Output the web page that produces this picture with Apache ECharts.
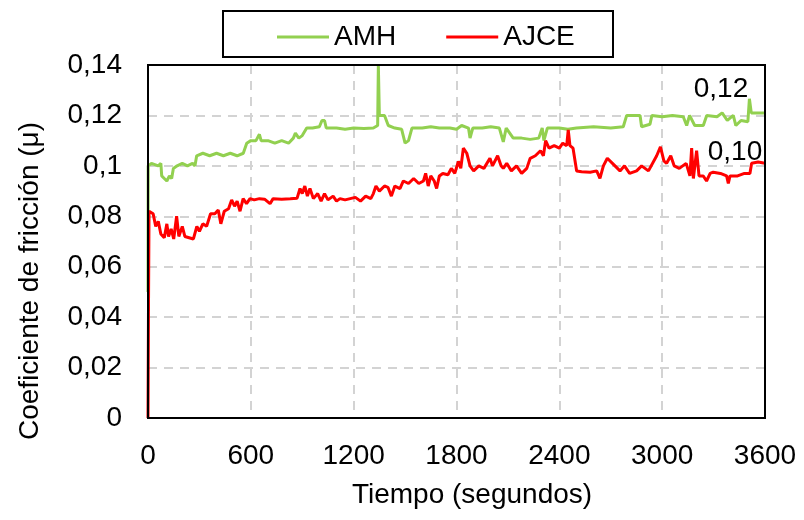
<!DOCTYPE html>
<html>
<head>
<meta charset="utf-8">
<script src="https://cdn.jsdelivr.net/npm/echarts@6/dist/echarts.min.js"></script>
<style>html,body{margin:0;padding:0;background:#fff}#c{width:804px;height:520px}</style>
</head>
<body>
<div id="c"></div>
<script>
// ---- Data ----
const seriesNames = ['AMH', 'AJCE'];
const xTicks = [0, 600, 1200, 1800, 2400, 3000, 3600];
const yTickLabels = ['0', '0,02', '0,04', '0,06', '0,08', '0,1', '0,12', '0,14'];
const endLabels = ['0,12', '0,10'];

const amhPoints = [
  [0,0.05],[1,0.100],[20,0.101],[60,0.100],[75,0.101],[80,0.096],[95,0.095],[110,0.094],[125,0.096],[138,0.095],
  [148,0.099],[170,0.100],[200,0.101],[230,0.100],[260,0.101],[274,0.100],[284,0.104],[320,0.105],[360,0.104],
  [400,0.105],[440,0.104],[480,0.105],[520,0.104],[556,0.105],[576,0.109],[600,0.110],[630,0.110],[650,0.1125],
  [660,0.110],[700,0.110],[740,0.109],[780,0.110],[820,0.109],[848,0.111],[860,0.113],[880,0.111],[900,0.112],
  [926,0.115],[960,0.115],[1000,0.1155],[1015,0.118],[1030,0.118],[1040,0.115],[1100,0.115],[1150,0.1145],
  [1200,0.115],[1260,0.1148],[1315,0.115],[1340,0.116],[1344,0.140],[1350,0.120],[1380,0.120],[1402,0.116],
  [1440,0.115],[1480,0.1145],[1500,0.109],[1520,0.110],[1540,0.115],[1600,0.115],[1650,0.1155],[1700,0.115],
  [1762,0.115],[1800,0.1145],[1830,0.116],[1870,0.115],[1879,0.111],[1895,0.115],[1950,0.115],[2000,0.1155],
  [2050,0.115],[2073,0.1095],[2090,0.115],[2131,0.111],[2180,0.111],[2230,0.1105],[2280,0.111],[2300,0.115],
  [2310,0.110],[2330,0.115],[2400,0.115],[2450,0.1145],[2500,0.115],[2600,0.1155],[2700,0.115],[2773,0.1155],
  [2793,0.120],[2871,0.120],[2880,0.1155],[2929,0.1165],[2940,0.120],[3000,0.1195],[3060,0.120],[3123,0.1195],
  [3143,0.116],[3160,0.120],[3190,0.116],[3240,0.116],[3260,0.120],[3320,0.1195],[3350,0.121],[3380,0.118],
  [3415,0.120],[3430,0.116],[3460,0.118],[3500,0.1175],[3509,0.1266],[3520,0.121],[3560,0.121],[3600,0.121]
];

const ajcePoints = [
  [0,0],[3,0.046],[6,0.082],[30,0.081],[45,0.076],[60,0.078],[75,0.073],[95,0.0715],[110,0.077],[120,0.072],
  [135,0.075],[150,0.071],[167,0.080],[180,0.072],[200,0.076],[215,0.072],[240,0.0715],[265,0.071],[285,0.076],
  [300,0.074],[320,0.077],[342,0.076],[365,0.081],[390,0.081],[410,0.0825],[425,0.077],[445,0.082],[470,0.083],
  [488,0.0865],[505,0.084],[520,0.086],[537,0.082],[555,0.087],[575,0.085],[595,0.087],[620,0.0865],[650,0.087],
  [680,0.0868],[712,0.085],[730,0.087],[780,0.0868],[830,0.087],[870,0.0872],[887,0.091],[900,0.089],[915,0.092],
  [930,0.088],[945,0.091],[965,0.087],[990,0.089],[1010,0.086],[1030,0.089],[1050,0.0865],[1080,0.088],[1100,0.086],
  [1120,0.087],[1150,0.0865],[1180,0.087],[1210,0.0875],[1240,0.086],[1270,0.088],[1300,0.087],[1315,0.089],
  [1330,0.092],[1350,0.090],[1380,0.092],[1400,0.0915],[1420,0.088],[1440,0.092],[1470,0.091],[1490,0.094],
  [1520,0.093],[1550,0.095],[1580,0.093],[1607,0.094],[1620,0.097],[1635,0.092],[1650,0.096],[1670,0.094],
  [1684,0.091],[1700,0.096],[1720,0.097],[1750,0.0965],[1770,0.099],[1790,0.097],[1811,0.1018],[1825,0.099],
  [1840,0.107],[1860,0.105],[1879,0.100],[1900,0.098],[1930,0.100],[1960,0.099],[1995,0.103],[2010,0.100],
  [2040,0.104],[2060,0.100],[2073,0.099],[2093,0.101],[2120,0.098],[2150,0.100],[2180,0.097],[2210,0.099],
  [2230,0.103],[2260,0.104],[2290,0.106],[2307,0.104],[2320,0.110],[2340,0.107],[2370,0.108],[2400,0.107],
  [2420,0.109],[2443,0.108],[2452,0.1143],[2462,0.108],[2480,0.107],[2501,0.098],[2530,0.0977],[2580,0.0975],
  [2618,0.098],[2637,0.095],[2657,0.100],[2680,0.103],[2710,0.101],[2754,0.098],[2780,0.100],[2810,0.097],
  [2851,0.098],[2880,0.100],[2920,0.098],[2968,0.104],[2990,0.1075],[3010,0.102],[3026,0.101],[3050,0.104],
  [3070,0.100],[3100,0.099],[3140,0.101],[3162,0.096],[3172,0.107],[3182,0.095],[3201,0.106],[3215,0.096],
  [3240,0.096],[3259,0.094],[3280,0.097],[3298,0.0975],[3340,0.097],[3376,0.096],[3386,0.093],[3396,0.096],
  [3440,0.096],[3480,0.097],[3512,0.097],[3522,0.101],[3560,0.1015],[3600,0.101]
];

// ---- Chart ----
const FONT = '"Liberation Sans", Arial, sans-serif';
const chart = echarts.init(document.getElementById('c'), null, {renderer: 'canvas'});
chart.setOption({
  animation: false,
  backgroundColor: '#fff',
  grid: {left: 148, right: 39, top: 65, bottom: 102},
  legend: {
    data: seriesNames,
    left: 272, top: 18,
    itemWidth: 52, itemHeight: 3, itemGap: 50, icon: 'rect',
    textStyle: {fontFamily: FONT, fontSize: 28, color: '#000'}
  },
  xAxis: {
    type: 'value', min: 0, max: 3600, interval: 600,
    axisLine: {show: true, lineStyle: {color: '#000', width: 2}},
    axisTick: {show: false},
    axisLabel: {fontFamily: FONT, fontSize: 28, color: '#000', margin: 24,
      formatter: v => xTicks.includes(v) ? String(v) : ''},
    splitLine: {show: true, lineStyle: {color: '#d3d3d3', width: 2, type: [9, 7]}}
  },
  yAxis: {
    type: 'value', min: 0, max: 0.14, interval: 0.02,
    axisLine: {show: true, lineStyle: {color: '#000', width: 2}},
    axisTick: {show: false},
    axisLabel: {fontFamily: FONT, fontSize: 28, color: '#000', margin: 26,
      formatter: v => yTickLabels[Math.round(v / 0.02)]},
    splitLine: {show: true, lineStyle: {color: '#d3d3d3', width: 2, type: [9, 7]}}
  },
  series: [
    {name: seriesNames[0], type: 'line', data: amhPoints, showSymbol: false, symbol: 'none',
      lineStyle: {color: '#92d050', width: 3}, itemStyle: {color: '#92d050'}, z: 2},
    {name: seriesNames[1], type: 'line', data: ajcePoints, showSymbol: false, symbol: 'none',
      lineStyle: {color: '#ff0000', width: 3}, itemStyle: {color: '#ff0000'}, z: 3}
  ],
  graphic: [
    {type: 'rect', left: 222, top: 10, shape: {width: 390, height: 46},
      style: {fill: 'transparent', stroke: '#000', lineWidth: 2}, z: -1},
    {type: 'rect', x: 148, y: 65, shape: {x: 0, y: 0, width: 617, height: 353},
      style: {fill: 'transparent', stroke: '#000', lineWidth: 2}, z: 10, silent: true},
    {type: 'text', x: 30, y: 281, rotation: Math.PI / 2,
      style: {text: 'Coeficiente de fricción (μ)', font: '28px ' + FONT, fill: '#000', textAlign: 'center', textVerticalAlign: 'middle'}},
    {type: 'text', x: 472, y: 495,
      style: {text: 'Tiempo (segundos)', font: '28px ' + FONT, fill: '#000', textAlign: 'center', textVerticalAlign: 'middle'}},
    {type: 'text', x: 721, y: 89,
      style: {text: endLabels[0], font: '28px ' + FONT, fill: '#000', textAlign: 'center', textVerticalAlign: 'middle'}},
    {type: 'text', x: 735, y: 152,
      style: {text: endLabels[1], font: '28px ' + FONT, fill: '#000', textAlign: 'center', textVerticalAlign: 'middle'}}
  ]
});
</script>
</body>
</html>
